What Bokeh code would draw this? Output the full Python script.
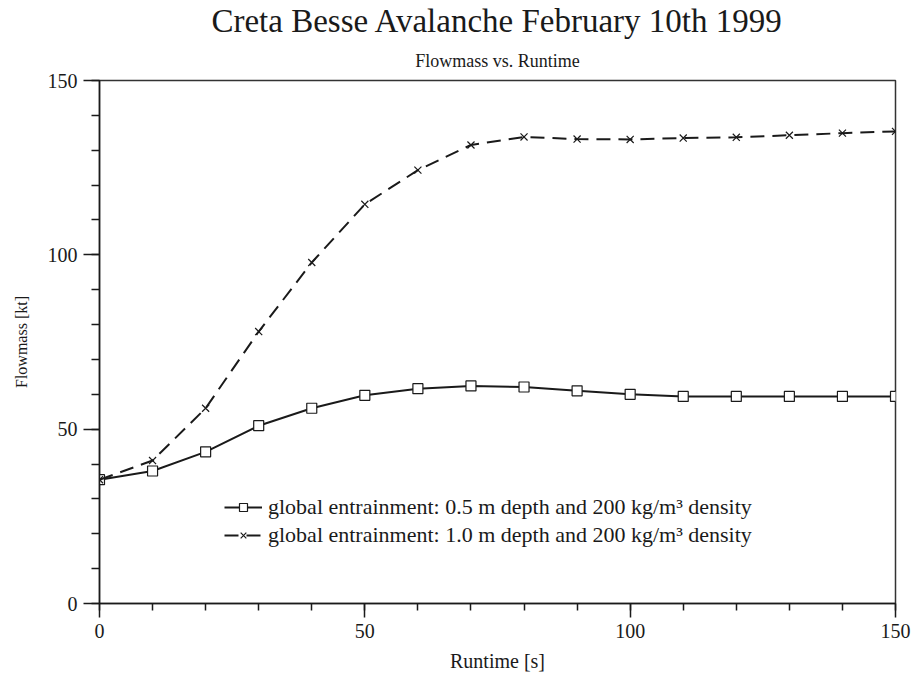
from bokeh.plotting import figure
from bokeh.models import Title, Legend, LegendItem, FixedTicker, Range1d
from bokeh.embed import file_html
from bokeh.resources import INLINE

runtime = [0, 10, 20, 30, 40, 50, 60, 70, 80, 90, 100, 110, 120, 130, 140, 150]
mass_05 = [35.5, 38.0, 43.5, 51.0, 56.0, 59.7, 61.6, 62.4, 62.1, 61.0, 60.0, 59.4, 59.4, 59.4, 59.4, 59.4]
mass_10 = [35.5, 41.0, 56.0, 78.0, 97.8, 114.5, 124.3, 131.5, 133.8, 133.2, 133.1, 133.5, 133.7, 134.3, 134.9, 135.4]
label_05 = "global entrainment: 0.5 m depth and 200 kg/m\u00b3 density"
label_10 = "global entrainment: 1.0 m depth and 200 kg/m\u00b3 density"
x_ticks = [0, 50, 100, 150]
y_ticks = [0, 50, 100, 150]

FONT = "Liberation Serif"
INK = "#1a1a1a"

p = figure(width=912, height=674, output_backend="svg", toolbar_location=None,
           x_range=Range1d(0, 150), y_range=Range1d(0, 150),
           title="Creta Besse Avalanche February 10th 1999",
           min_border_left=99, min_border_right=17, min_border_top=80, min_border_bottom=71)
p.title.align = "center"
p.title.text_font = FONT
p.title.text_font_size = "33px"
p.title.text_font_style = "normal"
p.title.text_color = INK
p.title.standoff = 0
p.add_layout(Title(text="Flowmass vs. Runtime", align="center", text_color=INK, standoff=20,
                   text_font=FONT, text_font_size="18px", text_font_style="normal"), "above")

p.grid.visible = False
p.outline_line_color = "#333333"
p.outline_line_width = 1.5
p.background_fill_color = "white"
p.border_fill_color = "white"

for ax in (p.xaxis[0], p.yaxis[0]):
    ax.axis_line_color = INK
    ax.axis_line_width = 1.5
    ax.major_tick_line_color = INK
    ax.minor_tick_line_color = INK
    ax.major_tick_line_width = 1.5
    ax.minor_tick_line_width = 1.5
    ax.major_tick_in = 0
    ax.minor_tick_in = 0
    ax.major_label_text_font = FONT
    ax.major_label_text_font_size = "20px"
    ax.major_label_text_color = INK
    ax.axis_label_text_font = FONT
    ax.axis_label_text_font_style = "normal"
    ax.axis_label_text_color = INK

p.xaxis.ticker = FixedTicker(ticks=x_ticks, minor_ticks=list(range(0, 151, 10)))
p.yaxis.ticker = FixedTicker(ticks=y_ticks, minor_ticks=list(range(0, 151, 10)))
p.xaxis.major_tick_out = 14
p.xaxis.minor_tick_out = 7
p.yaxis.major_tick_out = 16
p.yaxis.minor_tick_out = 8
p.xaxis.axis_label = "Runtime [s]"
p.yaxis.axis_label = "Flowmass [kt]"
p.xaxis.axis_label_text_font_size = "20px"
p.yaxis.axis_label_text_font_size = "16px"
p.xaxis.axis_label_standoff = 9
p.yaxis.axis_label_standoff = 15
p.xaxis.major_label_standoff = 6
p.yaxis.major_label_standoff = 6

l1 = p.line(runtime, mass_05, line_color=INK, line_width=2)
m1 = p.scatter(runtime, mass_05, marker="square", size=10, fill_color="white",
               line_color=INK, line_width=1.2)
l2 = p.line(runtime, mass_10, line_color=INK, line_width=2, line_dash="14 8")
m2 = p.scatter(runtime, mass_10, marker="x", size=10, line_color=INK, line_width=1.2)

legend = Legend(items=[LegendItem(label=label_05, renderers=[l1, m1]),
                       LegendItem(label=label_10, renderers=[l2, m2])],
                location=(125, 55), border_line_color=None, background_fill_alpha=0,
                label_text_font=FONT, label_text_font_size="22px", label_text_color=INK,
                glyph_width=38, glyph_height=20, label_height=20, spacing=2,
                padding=4, margin=0, label_standoff=6)
p.add_layout(legend, "center")

open("out.html", "w").write(file_html(p, INLINE))
